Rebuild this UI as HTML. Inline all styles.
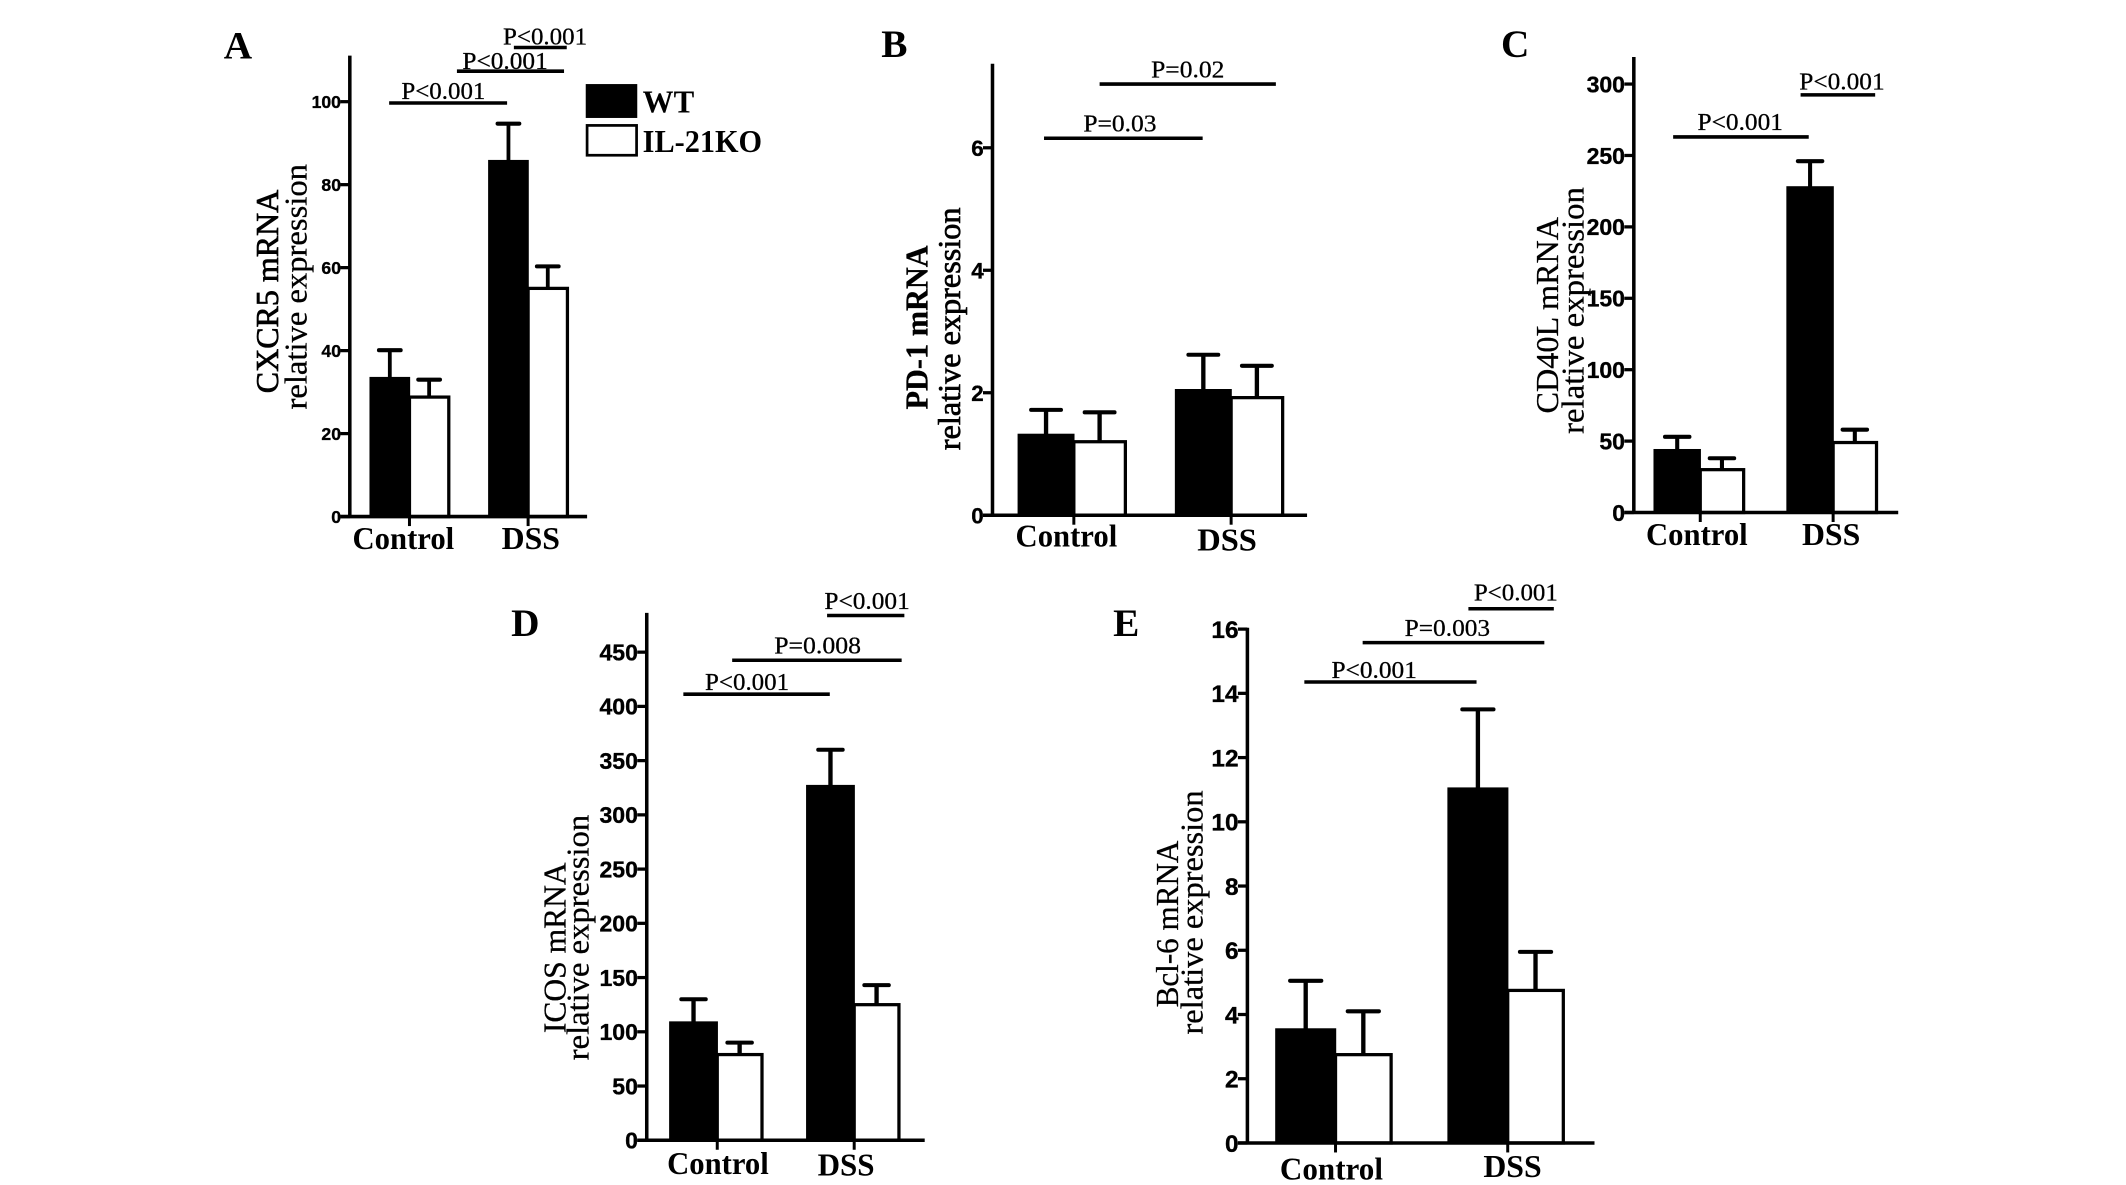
<!DOCTYPE html>
<html lang="en">
<head>
<meta charset="utf-8">
<title>mRNA relative expression in WT and IL-21KO mice</title>
<style>
html,body{margin:0;padding:0;background:#fff;width:2126px;height:1185px;overflow:hidden}
svg{display:block}
.serif{font-family:"Liberation Serif",serif;fill:#000}
.sans{font-family:"Liberation Sans",sans-serif;fill:#000;font-weight:bold;stroke:#000;stroke-width:.25}
.letter{font-family:"Liberation Serif",serif;font-weight:bold;font-size:29px}
.ttl{font-family:"Liberation Serif",serif;font-size:23px;stroke:#000;stroke-width:.2}
.ttl-medium{stroke-width:.5}
.p{font-family:"Liberation Serif",serif;font-size:18px;stroke:#000;stroke-width:.2}
.sig{stroke:#000;stroke-width:2.6}
.leg{font-family:"Liberation Serif",serif;font-weight:bold;font-size:23px}
</style>
</head>
<body>
<svg id="fig" xmlns="http://www.w3.org/2000/svg" width="2126" height="1185" viewBox="0 0 1568 874" preserveAspectRatio="none">
<rect x="0" y="0" width="1568" height="874" fill="#fff"/>

<g id="panel-a">
  <text class="letter" x="165" y="43">A</text>
  <text class="ttl ttl-medium" transform="translate(205,290) rotate(-90)" textLength="150" lengthAdjust="spacingAndGlyphs">CXCR5 mRNA</text>
  <text class="ttl" transform="translate(226,302) rotate(-90)" textLength="181" lengthAdjust="spacingAndGlyphs">relative expression</text>
  <line class="sig" x1="287" x2="374" y1="76" y2="76"/>
  <text class="p" x="296" y="73" textLength="62" lengthAdjust="spacingAndGlyphs">P&lt;0.001</text>
  <line class="sig" x1="337" x2="416" y1="52.5" y2="52.5"/>
  <text class="p" x="341" y="51" textLength="63" lengthAdjust="spacingAndGlyphs">P&lt;0.001</text>
  <line class="sig" x1="379" x2="418" y1="35" y2="35"/>
  <text class="p" x="371" y="33" textLength="62" lengthAdjust="spacingAndGlyphs">P&lt;0.001</text>
</g>

<g id="legend">
  <rect x="432" y="62" width="38" height="25" fill="#000"/>
  <text class="leg" x="474" y="83" textLength="38" lengthAdjust="spacingAndGlyphs">WT</text>
  <rect x="433" y="92.5" width="36.5" height="22" fill="#fff" stroke="#000" stroke-width="2"/>
  <text class="leg" x="474" y="112" textLength="88" lengthAdjust="spacingAndGlyphs">IL-21KO</text>
</g>

<g id="panel-b">
  <text class="letter" x="650" y="42">B</text>
  <text class="ttl" font-weight="bold" transform="translate(684,302) rotate(-90)" textLength="121" lengthAdjust="spacingAndGlyphs">PD-1 mRNA</text>
  <text class="ttl ttl-medium" transform="translate(708,332) rotate(-90)" textLength="179" lengthAdjust="spacingAndGlyphs">relative expression</text>
  <line class="sig" x1="770" x2="887" y1="102" y2="102"/>
  <text class="p" x="799" y="97" textLength="54" lengthAdjust="spacingAndGlyphs">P=0.03</text>
  <line class="sig" x1="811" x2="941" y1="62" y2="62"/>
  <text class="p" x="849" y="57" textLength="54" lengthAdjust="spacingAndGlyphs">P=0.02</text>
</g>

<g id="panel-c">
  <text class="letter" x="1107" y="42">C</text>
  <text class="ttl" transform="translate(1149,305) rotate(-90)" textLength="145" lengthAdjust="spacingAndGlyphs">CD40L mRNA</text>
  <text class="ttl" transform="translate(1168,320) rotate(-90)" textLength="182" lengthAdjust="spacingAndGlyphs">relative expression</text>
  <line class="sig" x1="1234" x2="1334" y1="101" y2="101"/>
  <text class="p" x="1252" y="96" textLength="63" lengthAdjust="spacingAndGlyphs">P&lt;0.001</text>
  <line class="sig" x1="1328" x2="1383" y1="70" y2="70"/>
  <text class="p" x="1327" y="66" textLength="63" lengthAdjust="spacingAndGlyphs">P&lt;0.001</text>
</g>

<g id="panel-d">
  <text class="letter" x="377" y="469">D</text>
  <text class="ttl" transform="translate(417,762) rotate(-90)" textLength="126" lengthAdjust="spacingAndGlyphs">ICOS mRNA</text>
  <text class="ttl" transform="translate(434,782) rotate(-90)" textLength="181" lengthAdjust="spacingAndGlyphs">relative expression</text>
  <line class="sig" x1="504" x2="612" y1="512" y2="512"/>
  <text class="p" x="520" y="509" textLength="62" lengthAdjust="spacingAndGlyphs">P&lt;0.001</text>
  <line class="sig" x1="540" x2="665" y1="487" y2="487"/>
  <text class="p" x="571" y="482" textLength="64" lengthAdjust="spacingAndGlyphs">P=0.008</text>
  <line class="sig" x1="610" x2="667" y1="454" y2="454"/>
  <text class="p" x="608" y="449" textLength="63" lengthAdjust="spacingAndGlyphs">P&lt;0.001</text>
</g>

<g id="panel-e">
  <text class="letter" x="821" y="469">E</text>
  <text class="ttl" transform="translate(869,743) rotate(-90)" textLength="123" lengthAdjust="spacingAndGlyphs">Bcl-6 mRNA</text>
  <text class="ttl" transform="translate(887,763) rotate(-90)" textLength="180" lengthAdjust="spacingAndGlyphs">relative expression</text>
  <line class="sig" x1="962" x2="1089" y1="503" y2="503"/>
  <text class="p" x="982" y="500" textLength="63" lengthAdjust="spacingAndGlyphs">P&lt;0.001</text>
  <line class="sig" x1="1005" x2="1139" y1="474" y2="474"/>
  <text class="p" x="1036" y="469" textLength="63" lengthAdjust="spacingAndGlyphs">P=0.003</text>
  <line class="sig" x1="1083" x2="1146" y1="449" y2="449"/>
  <text class="p" x="1087" y="443" textLength="62" lengthAdjust="spacingAndGlyphs">P&lt;0.001</text>
</g>
</svg>

<script>
// Chart data
const categories = ['Control', 'DSS'];

const aTicks = [0, 20, 40, 60, 80, 100];
const aWT = [33.5, 85.8];
const aWTErr = [6.6, 8.9];
const aKO = [28.8, 55];
const aKOErr = [4.2, 5.3];

const bTicks = [0, 2, 4, 6];
const bWT = [1.32, 2.05];
const bWTErr = [0.4, 0.57];
const bKO = [1.2, 1.92];
const bKOErr = [0.48, 0.52];

const cTicks = [0, 50, 100, 150, 200, 250, 300];
const cWT = [44, 228];
const cWTErr = [9, 18];
const cKO = [30, 49];
const cKOErr = [8, 9];

const dTicks = [0, 50, 100, 150, 200, 250, 300, 350, 400, 450];
const dWT = [109, 327];
const dWTErr = [21, 33];
const dKO = [79, 125];
const dKOErr = [11, 18];

const eTicks = [0, 2, 4, 6, 8, 10, 12, 14, 16];
const eWT = [3.55, 11.05];
const eWTErr = [1.5, 2.45];
const eKO = [2.75, 4.75];
const eKOErr = [1.35, 1.2];

const NS = 'http://www.w3.org/2000/svg';

function shape(parent, tag, attrs) {
  const el = document.createElementNS(NS, tag);
  for (const k in attrs) el.setAttribute(k, attrs[k]);
  parent.appendChild(el);
  return el;
}

function drawPanel(id, frame, wt, wtErr, ko, koErr, ticks) {
  const g = document.getElementById(id);
  const maxTick = ticks[ticks.length - 1];
  const y = v => frame.base - v * (frame.base - frame.maxTickY) / maxTick;
  const x = i => frame.center0 + i * frame.step;

  // error bars sit behind the bars
  function errorBar(cx, value, err, series) {
    const stem = shape(g, 'line', {x1: cx, x2: cx, y1: y(value), y2: y(value + err), stroke: '#000', 'stroke-width': frame.stem});
    
    
    const cap = shape(g, 'line', {x1: cx - frame.cap / 2, x2: cx + frame.cap / 2, y1: y(value + err), y2: y(value + err), stroke: '#000', 'stroke-width': 3, 'stroke-linecap': 'round'});
    
    
  }

  categories.forEach((cat, i) => {
    const c = x(i);
    const wtW = frame.wtW;
    const koW = frame.koW;
    errorBar(c - wtW / 2, wt[i], wtErr[i], 'wt');
    errorBar(c + koW / 2, ko[i], koErr[i], 'il21ko');
    const wtBar = shape(g, 'rect', {x: c - wtW, y: y(wt[i]), width: wtW, height: frame.base - y(wt[i]), fill: '#000', stroke: '#000', 'stroke-width': 1});
    
    
    const koBar = shape(g, 'rect', {x: c, y: y(ko[i]), width: koW, height: frame.base - y(ko[i]), fill: '#fff', stroke: '#000', 'stroke-width': 2.4});
    
    
    const tick = shape(g, 'line', {x1: c, x2: c, y1: frame.base, y2: frame.base + 7, stroke: '#000', 'stroke-width': 2.2});
    
    
    const label = shape(g, 'text', {class: 'serif', 'font-weight': 'bold', 'font-size': 23, x: frame.catX[i], y: frame.catY[i], textLength: frame.catW[i], lengthAdjust: 'spacingAndGlyphs'});
    
    
    label.textContent = cat;
  });

  const yAxis = shape(g, 'line', {x1: frame.axisX, x2: frame.axisX, y1: frame.top, y2: frame.base + 1, stroke: '#000', 'stroke-width': 2.6});
  
  
  const xAxis = shape(g, 'line', {x1: frame.axisX - 7, x2: frame.axisEnd, y1: frame.base, y2: frame.base, stroke: '#000', 'stroke-width': 2.6});
  
  

  ticks.forEach(t => {
    const tick = shape(g, 'line', {x1: frame.axisX - 7, x2: frame.axisX, y1: y(t), y2: y(t), stroke: '#000', 'stroke-width': 2.4});
    
    
    const label = shape(g, 'text', {class: 'sans', 'font-size': frame.tickFont, x: frame.axisX - 6.5, y: y(t) + frame.tickFont * 0.36, 'text-anchor': 'end'});
    
    
    label.textContent = t;
  });
}

drawPanel('panel-a', {axisX: 258, axisEnd: 433, top: 41, base: 381, maxTickY: 75, center0: 302, step: 87.5, wtW: 29, koW: 29, cap: 16, stem: 2.8, tickFont: 13, catX: [260, 370], catY: [405, 405], catW: [75, 43]}, aWT, aWTErr, aKO, aKOErr, aTicks);
drawPanel('panel-b', {axisX: 732, axisEnd: 964, top: 47, base: 380, maxTickY: 109, center0: 792, step: 116, wtW: 41, koW: 38, cap: 22, stem: 3.2, tickFont: 16.5, catX: [749, 883], catY: [403, 406], catW: [75, 44]}, bWT, bWTErr, bKO, bKOErr, bTicks);
drawPanel('panel-c', {axisX: 1205, axisEnd: 1400, top: 42, base: 378, maxTickY: 62, center0: 1254, step: 98, wtW: 34, koW: 32, cap: 18, stem: 3, tickFont: 17, catX: [1214, 1329], catY: [402, 402], catW: [75, 43]}, cWT, cWTErr, cKO, cKOErr, cTicks);
drawPanel('panel-d', {axisX: 477, axisEnd: 682, top: 452, base: 841, maxTickY: 481, center0: 529, step: 101, wtW: 35, koW: 33, cap: 18, stem: 3.2, tickFont: 17, catX: [492, 603], catY: [866, 867], catW: [75, 42]}, dWT, dWTErr, dKO, dKOErr, dTicks);
drawPanel('panel-e', {axisX: 920, axisEnd: 1176, top: 463, base: 843, maxTickY: 464, center0: 985, step: 127, wtW: 44, koW: 41, cap: 23, stem: 3.2, tickFont: 18, catX: [944, 1094], catY: [870, 868], catW: [76, 43]}, eWT, eWTErr, eKO, eKOErr, eTicks);
</script>
</body>
</html>
